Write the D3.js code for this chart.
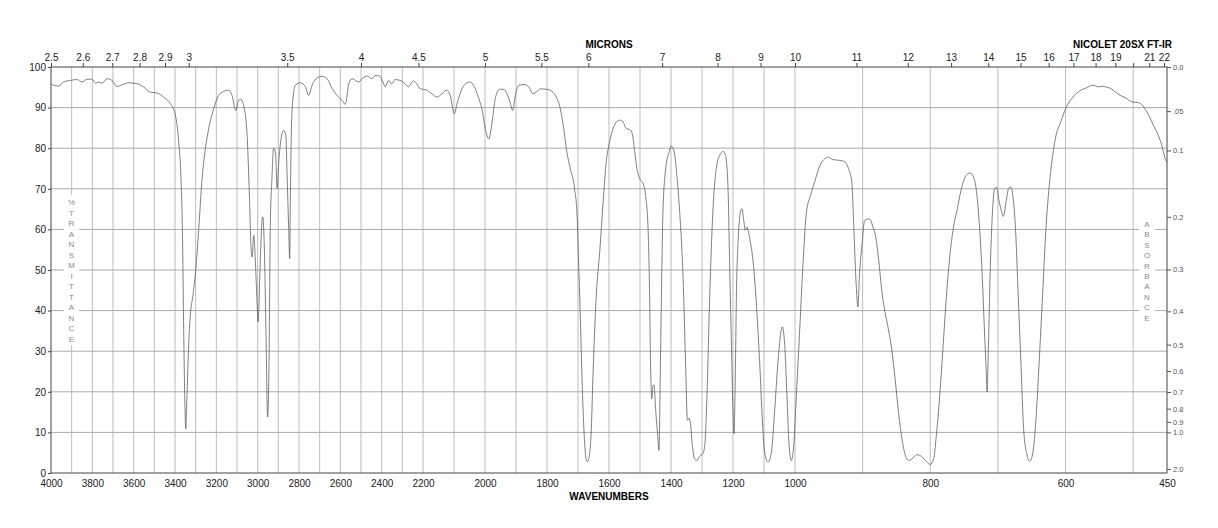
<!DOCTYPE html>
<html>
<head>
<meta charset="utf-8">
<script src="https://cdn.jsdelivr.net/npm/d3@7"></script>
<style>
  html, body { margin: 0; padding: 0; background: #fff; }
  svg { display: block; font-family: "Liberation Sans", Arial, sans-serif; }
</style>
</head>
<body>
<div id="chart"></div>
<script>
// spectrum (cm-1, %T)
const wavenumbers = [
  4000, 3987, 3963, 3939, 3906, 3874, 3850, 3826, 3802, 3785, 3769, 3753, 3729, 3705, 3681, 3656, 3624, 3584, 3552, 3519,
  3487, 3455, 3423, 3398, 3382, 3371, 3363, 3358, 3353, 3348, 3342, 3334, 3326, 3313, 3302, 3285, 3269, 3253, 3237, 3213,
  3189, 3164, 3140, 3124, 3106, 3092, 3081, 3068, 3052, 3040, 3032, 3027, 3019, 3011, 3003, 2998, 2990, 2984, 2976, 2968,
  2960, 2952, 2945, 2939, 2931, 2923, 2914, 2906, 2898, 2887, 2874, 2864, 2858, 2850, 2845, 2842, 2834, 2818, 2793, 2769,
  2753, 2737, 2713, 2689, 2664, 2640, 2616, 2592, 2576, 2559, 2543, 2511, 2495, 2471, 2447, 2431, 2410, 2394, 2383, 2367,
  2351, 2335, 2311, 2287, 2271, 2247, 2231, 2215, 2187, 2171, 2155, 2139, 2123, 2112, 2104, 2099, 2090, 2074, 2058, 2047,
  2037, 2020, 2010, 1999, 1988, 1977, 1967, 1953, 1940, 1929, 1918, 1911, 1902, 1891, 1875, 1859, 1845, 1832, 1822, 1800,
  1784, 1770, 1757, 1746, 1736, 1725, 1711, 1703, 1698, 1693, 1687, 1680, 1674, 1670, 1666, 1662, 1657, 1652, 1641, 1630,
  1619, 1609, 1598, 1587, 1576, 1566, 1555, 1544, 1533, 1525, 1517, 1510, 1501, 1490, 1482, 1474, 1469, 1466, 1462, 1458,
  1455, 1449, 1443, 1439, 1434, 1430, 1426, 1417, 1406, 1399, 1391, 1381, 1372, 1361, 1353, 1347, 1342, 1338, 1331, 1324,
  1316, 1308, 1297, 1291, 1284, 1275, 1265, 1254, 1243, 1232, 1224, 1216, 1211, 1205, 1200, 1197, 1192, 1189, 1183, 1176,
  1171, 1166, 1160, 1155, 1146, 1135, 1125, 1114, 1105, 1098, 1087, 1076, 1066, 1055, 1047, 1041, 1033, 1026, 1019, 1012,
  1004, 998, 993, 988, 983, 977, 971, 963, 956, 951, 944, 934, 926, 921, 916, 913, 910, 907, 905, 901,
  897, 890, 884, 881, 876, 872, 867, 862, 857, 852, 847, 842, 837, 832, 827, 820, 813, 805, 800, 795,
  791, 786, 781, 776, 771, 766, 760, 754, 747, 741, 736, 731, 727, 723, 720, 717, 716, 714, 711, 708,
  705, 702, 699, 695, 692, 688, 684, 681, 678, 674, 670, 666, 662, 657, 653, 649, 644, 639, 634, 629,
  624, 619, 614, 607, 600, 590, 580, 570, 559, 551, 545, 541, 533, 526, 519, 511, 502, 492, 484, 477,
  470, 462, 457, 454, 452, 450
]
const transmittance = [
  95.9, 95.5, 95.3, 96.3, 96.7, 96.9, 96.3, 97.0, 97.0, 96.0, 96.3, 96.0, 97.1, 96.7, 95.2, 95.6, 96.1, 95.9, 95.1, 93.8,
  93.6, 92.6, 91.0, 88.1, 81.5, 72.5, 56.1, 35.5, 19.1, 10.9, 19.1, 31.4, 38.8, 43.8, 48.7, 60.2, 72.5, 79.9, 84.8, 89.7,
  93.0, 94.0, 94.3, 93.0, 89.3, 91.8, 92.0, 90.6, 84.0, 68.4, 55.3, 53.2, 58.5, 52.0, 42.1, 37.2, 47.9, 56.9, 63.1, 56.1,
  35.5, 13.8, 27.3, 60.2, 72.5, 80.0, 79.1, 70.1, 76.6, 82.3, 84.4, 83.2, 74.1, 60.2, 52.8, 66.7, 88.9, 95.5, 96.1, 95.1,
  93.0, 95.5, 97.3, 97.7, 97.1, 94.7, 93.0, 91.8, 90.8, 95.9, 97.1, 96.3, 97.1, 97.8, 97.1, 97.9, 97.8, 96.3, 95.1, 96.7,
  95.9, 96.9, 96.7, 95.9, 95.1, 96.6, 95.9, 94.7, 94.3, 93.4, 92.6, 93.4, 94.3, 93.0, 89.7, 88.5, 91.0, 94.7, 96.1, 96.3,
  95.5, 92.2, 89.7, 84.8, 82.3, 86.5, 92.2, 94.5, 94.5, 93.4, 91.0, 89.3, 93.0, 95.5, 95.7, 95.1, 93.4, 94.0, 94.6, 94.5,
  94.0, 92.6, 89.7, 84.8, 79.1, 75.0, 70.0, 63.5, 52.0, 39.7, 23.2, 9.3, 3.5, 2.8, 3.3, 5.0, 10.9, 23.2, 43.8, 54.4,
  66.7, 76.6, 81.5, 84.8, 86.5, 86.9, 86.5, 84.8, 84.6, 83.6, 79.1, 75.0, 72.5, 71.3, 68.4, 60.2, 43.8, 27.3, 18.3, 21.6,
  21.6, 15.0, 9.3, 5.6, 27.3, 47.9, 64.3, 75.0, 79.1, 80.5, 79.5, 73.3, 64.3, 47.9, 27.3, 13.0, 13.5, 12.6, 6.8, 3.5,
  3.1, 4.1, 4.8, 6.8, 19.1, 43.8, 64.3, 75.0, 78.2, 79.2, 78.2, 70.0, 52.0, 31.4, 15.0, 9.7, 27.3, 43.8, 57.7, 64.3,
  65.1, 62.6, 59.8, 60.6, 57.7, 52.0, 42.1, 27.3, 12.6, 5.2, 2.7, 5.2, 15.0, 27.3, 33.9, 36.0, 31.4, 19.1, 6.8, 3.1,
  6.8, 19.1, 35.5, 52.0, 64.3, 68.4, 71.7, 75.8, 77.4, 77.8, 77.2, 77.0, 76.6, 75.0, 71.7, 60.2, 47.9, 40.9, 47.9, 56.1,
  62.2, 62.6, 60.2, 58.5, 52.0, 45.4, 39.7, 35.5, 30.5, 23.2, 15.0, 8.5, 4.4, 3.1, 3.5, 4.5, 4.1, 2.7, 2.1, 3.5,
  9.3, 19.1, 31.4, 43.8, 53.6, 60.2, 65.1, 70.0, 73.3, 73.9, 72.9, 68.4, 60.2, 47.9, 35.5, 24.1, 20.0, 31.4, 52.0, 64.3,
  70.0, 70.4, 67.6, 64.7, 63.2, 66.7, 70.2, 70.4, 68.4, 60.2, 43.8, 27.3, 10.9, 4.4, 2.9, 4.4, 12.6, 27.3, 43.8, 60.2,
  70.9, 78.2, 83.2, 86.5, 89.7, 92.4, 94.0, 94.8, 95.5, 95.1, 95.3, 95.1, 94.7, 93.8, 93.0, 92.4, 91.4, 91.2, 90.1, 88.1,
  85.6, 82.8, 80.3, 78.2, 77.0, 76.5
]

// axes
const wnBreaks = [4000, 2200, 1000, 450]
const wnTicks = [4000, 3800, 3600, 3400, 3200, 3000, 2800, 2600, 2400, 2200, 2000, 1800, 1600, 1400, 1200, 1000, 800, 600, 450]
const pctTicks = [0, 10, 20, 30, 40, 50, 60, 70, 80, 90, 100]
const micronTicks = [2.5, 2.6, 2.7, 2.8, 2.9, 3, 3.5, 4, 4.5, 5, 5.5, 6, 7, 8, 9, 10, 11, 12, 13, 14, 15, 16, 17, 18, 19, 20, 21, 22]
const micronHidden = [20]
const absTicks = [0, 0.05, 0.1, 0.2, 0.3, 0.4, 0.5, 0.6, 0.7, 0.8, 0.9, 1.0, 2.0]
const absLabels = ["0.0", ".05", "0.1", "0.2", "0.3", "0.4", "0.5", "0.6", "0.7", "0.8", "0.9", "1.0", "2.0"]

const width = 1218, height = 528
const pLeft = 51, pRight = 1167, pTop = 67, pBottom = 473
const seg = (pRight - pLeft) / 3

const svg = d3.select("#chart").append("svg")
    .attr("width", width)
    .attr("height", height)

// three equal-width pieces: 4000-2200, 2200-1000, 1000-450
const x = d3.scaleLinear()
    .domain(wnBreaks)
    .range([pLeft, pLeft + seg, pLeft + 2 * seg, pRight])

const y = d3.scaleLinear()
    .domain([0, 100])
    .range([pBottom, pTop])

// grid
const grid = svg.append("g")
grid.selectAll("line.v")
    .data(d3.range(3900, 450, -100))
    .join("line")
    .attr("class", "v")
    .attr("x1", d => x(d)).attr("x2", d => x(d))
    .attr("y1", pTop).attr("y2", pBottom)
    .attr("stroke", "#bdbdbd")
    .attr("stroke-width", 1)

grid.selectAll("line.h")
    .data(pctTicks.slice(1, -1))
    .join("line")
    .attr("class", "h")
    .attr("x1", pLeft).attr("x2", pRight)
    .attr("y1", d => y(d)).attr("y2", d => y(d))
    .attr("stroke", "#ababab")
    .attr("stroke-width", 1)

// vertical captions sit on white patches over the grid
function stackedLabel(text, cx, y0, step, box) {
    svg.append("rect")
        .attr("x", box[0]).attr("y", box[1])
        .attr("width", box[2]).attr("height", box[3])
        .attr("fill", "#fff")
    svg.append("g").selectAll("text")
        .data(text.split(""))
        .join("text")
        .attr("x", cx)
        .attr("y", (d, i) => y0 + i * step)
        .attr("text-anchor", "middle")
        .attr("font-size", "8px")
        .attr("fill", "#8a8a8a")
        .text(d => d)
}
stackedLabel("%TRANSMITTANCE", 71.5, 205, 10.5, [64, 195, 15, 150])
stackedLabel("ABSORBANCE", 1147, 227, 10.4, [1139, 214, 16, 108])

// spectrum
const pts = wavenumbers.map((w, i) => [w, transmittance[i]])
const line = d3.line()
    .x(d => x(d[0]))
    .y(d => y(d[1]))
    .curve(d3.curveMonotoneX)

svg.append("path")
    .datum(pts)
    .attr("d", line)
    .attr("fill", "none")
    .attr("stroke", "#555")
    .attr("stroke-width", 0.75)

// frame
svg.append("rect")
    .attr("x", pLeft).attr("y", pTop)
    .attr("width", pRight - pLeft).attr("height", pBottom - pTop)
    .attr("fill", "none")
    .attr("stroke", "#444")
    .attr("stroke-width", 1)

// bottom: wavenumbers
const xAxis = d3.axisBottom(x)
    .tickValues(wnTicks)
    .tickSize(0)
    .tickPadding(7)
    .tickFormat(d3.format("d"))
const gx = svg.append("g")
    .attr("transform", `translate(0,${pBottom})`)
    .call(xAxis)
gx.select(".domain").remove()
gx.selectAll("text").attr("font-size", "10px").attr("fill", "#222")
gx.attr("font-family", null)

// left: %T
const yAxis = d3.axisLeft(y)
    .tickValues(pctTicks)
    .tickSize(3)
    .tickPadding(2)
const gy = svg.append("g")
    .attr("transform", `translate(${pLeft},0)`)
    .call(yAxis)
gy.select(".domain").remove()
gy.selectAll("line").attr("stroke", "#444")
gy.selectAll("text").attr("font-size", "10px").attr("fill", "#222")
gy.attr("font-family", null)

// top: microns
const xTop = d3.axisTop(x)
    .tickValues(micronTicks.map(m => 10000 / m))
    .tickSize(4)
    .tickPadding(2)
    .tickFormat((d, i) => micronHidden.includes(micronTicks[i]) ? "" : String(micronTicks[i]))
const gt = svg.append("g")
    .attr("transform", `translate(0,${pTop})`)
    .call(xTop)
gt.select(".domain").remove()
gt.selectAll("line").attr("stroke", "#444")
gt.selectAll("text").attr("font-size", "10px").attr("fill", "#222")
gt.attr("font-family", null)

// right: absorbance
const rAxis = d3.axisRight(y)
    .tickValues(absTicks.map(a => 100 * Math.pow(10, -a)))
    .tickSize(4)
    .tickPadding(2)
    .tickFormat((d, i) => absLabels[i])
const gr = svg.append("g")
    .attr("transform", `translate(${pRight},0)`)
    .call(rAxis)
gr.select(".domain").remove()
gr.selectAll("line").attr("stroke", "#555")
gr.selectAll("text").attr("font-size", "7.5px").attr("fill", "#555")
gr.attr("font-family", null)

// titles
svg.append("text")
    .attr("x", 609).attr("y", 48)
    .attr("text-anchor", "middle")
    .attr("font-size", "10px")
    .attr("font-weight", "bold")
    .text("MICRONS")

svg.append("text")
    .attr("x", 1172).attr("y", 48)
    .attr("text-anchor", "end")
    .attr("font-size", "10px")
    .attr("font-weight", "bold")
    .text("NICOLET 20SX FT-IR")

svg.append("text")
    .attr("x", 609).attr("y", 500)
    .attr("text-anchor", "middle")
    .attr("font-size", "10px")
    .attr("font-weight", "bold")
    .text("WAVENUMBERS")
</script>
</body>
</html>
